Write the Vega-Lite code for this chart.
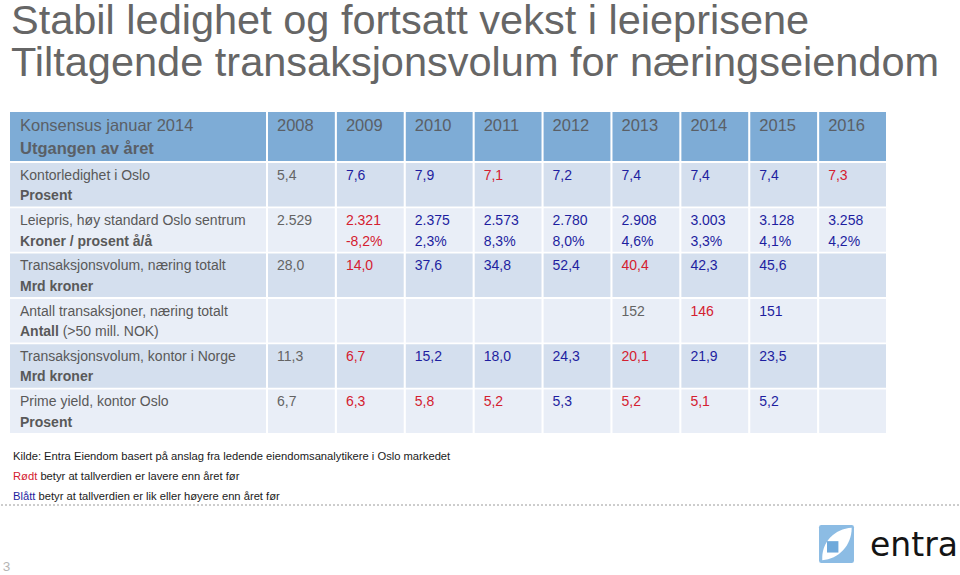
{
  "$schema": "https://vega.github.io/schema/vega-lite/v6.json",
  "padding": 0,
  "background": "white",
  "title": {
    "text": ["Stabil ledighet og fortsatt vekst i leieprisene", "Tiltagende transaksjonsvolum for næringseiendom"],
    "anchor": "start",
    "frame": "group",
    "font": "Liberation Sans",
    "fontSize": 41.5,
    "fontWeight": "normal",
    "color": "#666666",
    "lineHeight": 42,
    "offset": 28,
    "dx": 1
  },
  "datasets": {
    "etiketter": [
      {"rad": 1, "linje1": "Kontorledighet i Oslo", "linje2": "Prosent", "tillegg": ""},
      {"rad": 2, "linje1": "Leiepris, høy standard Oslo sentrum", "linje2": "Kroner / prosent å/å", "tillegg": ""},
      {"rad": 3, "linje1": "Transaksjonsvolum, næring totalt", "linje2": "Mrd kroner", "tillegg": ""},
      {"rad": 4, "linje1": "Antall transaksjoner, næring totalt", "linje2": "Antall", "tillegg": "(>50 mill. NOK)"},
      {"rad": 5, "linje1": "Transaksjonsvolum, kontor i Norge", "linje2": "Mrd kroner", "tillegg": ""},
      {"rad": 6, "linje1": "Prime yield, kontor Oslo", "linje2": "Prosent", "tillegg": ""}
    ],
    "aar": [
      {"aar": "2008"}, {"aar": "2009"}, {"aar": "2010"}, {"aar": "2011"}, {"aar": "2012"},
      {"aar": "2013"}, {"aar": "2014"}, {"aar": "2015"}, {"aar": "2016"}
    ],
    "celler": [
      {"rad": 1, "aar": "2008", "verdi": "5,4", "endring": "", "retning": "ingen"},
      {"rad": 1, "aar": "2009", "verdi": "7,6", "endring": "", "retning": "opp"},
      {"rad": 1, "aar": "2010", "verdi": "7,9", "endring": "", "retning": "opp"},
      {"rad": 1, "aar": "2011", "verdi": "7,1", "endring": "", "retning": "ned"},
      {"rad": 1, "aar": "2012", "verdi": "7,2", "endring": "", "retning": "opp"},
      {"rad": 1, "aar": "2013", "verdi": "7,4", "endring": "", "retning": "opp"},
      {"rad": 1, "aar": "2014", "verdi": "7,4", "endring": "", "retning": "opp"},
      {"rad": 1, "aar": "2015", "verdi": "7,4", "endring": "", "retning": "opp"},
      {"rad": 1, "aar": "2016", "verdi": "7,3", "endring": "", "retning": "ned"},
      {"rad": 2, "aar": "2008", "verdi": "2.529", "endring": "", "retning": "ingen"},
      {"rad": 2, "aar": "2009", "verdi": "2.321", "endring": "-8,2%", "retning": "ned"},
      {"rad": 2, "aar": "2010", "verdi": "2.375", "endring": "2,3%", "retning": "opp"},
      {"rad": 2, "aar": "2011", "verdi": "2.573", "endring": "8,3%", "retning": "opp"},
      {"rad": 2, "aar": "2012", "verdi": "2.780", "endring": "8,0%", "retning": "opp"},
      {"rad": 2, "aar": "2013", "verdi": "2.908", "endring": "4,6%", "retning": "opp"},
      {"rad": 2, "aar": "2014", "verdi": "3.003", "endring": "3,3%", "retning": "opp"},
      {"rad": 2, "aar": "2015", "verdi": "3.128", "endring": "4,1%", "retning": "opp"},
      {"rad": 2, "aar": "2016", "verdi": "3.258", "endring": "4,2%", "retning": "opp"},
      {"rad": 3, "aar": "2008", "verdi": "28,0", "endring": "", "retning": "ingen"},
      {"rad": 3, "aar": "2009", "verdi": "14,0", "endring": "", "retning": "ned"},
      {"rad": 3, "aar": "2010", "verdi": "37,6", "endring": "", "retning": "opp"},
      {"rad": 3, "aar": "2011", "verdi": "34,8", "endring": "", "retning": "opp"},
      {"rad": 3, "aar": "2012", "verdi": "52,4", "endring": "", "retning": "opp"},
      {"rad": 3, "aar": "2013", "verdi": "40,4", "endring": "", "retning": "ned"},
      {"rad": 3, "aar": "2014", "verdi": "42,3", "endring": "", "retning": "opp"},
      {"rad": 3, "aar": "2015", "verdi": "45,6", "endring": "", "retning": "opp"},
      {"rad": 3, "aar": "2016", "verdi": "", "endring": "", "retning": "ingen"},
      {"rad": 4, "aar": "2008", "verdi": "", "endring": "", "retning": "ingen"},
      {"rad": 4, "aar": "2009", "verdi": "", "endring": "", "retning": "ingen"},
      {"rad": 4, "aar": "2010", "verdi": "", "endring": "", "retning": "ingen"},
      {"rad": 4, "aar": "2011", "verdi": "", "endring": "", "retning": "ingen"},
      {"rad": 4, "aar": "2012", "verdi": "", "endring": "", "retning": "ingen"},
      {"rad": 4, "aar": "2013", "verdi": "152", "endring": "", "retning": "ingen"},
      {"rad": 4, "aar": "2014", "verdi": "146", "endring": "", "retning": "ned"},
      {"rad": 4, "aar": "2015", "verdi": "151", "endring": "", "retning": "opp"},
      {"rad": 4, "aar": "2016", "verdi": "", "endring": "", "retning": "ingen"},
      {"rad": 5, "aar": "2008", "verdi": "11,3", "endring": "", "retning": "ingen"},
      {"rad": 5, "aar": "2009", "verdi": "6,7", "endring": "", "retning": "ned"},
      {"rad": 5, "aar": "2010", "verdi": "15,2", "endring": "", "retning": "opp"},
      {"rad": 5, "aar": "2011", "verdi": "18,0", "endring": "", "retning": "opp"},
      {"rad": 5, "aar": "2012", "verdi": "24,3", "endring": "", "retning": "opp"},
      {"rad": 5, "aar": "2013", "verdi": "20,1", "endring": "", "retning": "ned"},
      {"rad": 5, "aar": "2014", "verdi": "21,9", "endring": "", "retning": "opp"},
      {"rad": 5, "aar": "2015", "verdi": "23,5", "endring": "", "retning": "opp"},
      {"rad": 5, "aar": "2016", "verdi": "", "endring": "", "retning": "ingen"},
      {"rad": 6, "aar": "2008", "verdi": "6,7", "endring": "", "retning": "ingen"},
      {"rad": 6, "aar": "2009", "verdi": "6,3", "endring": "", "retning": "ned"},
      {"rad": 6, "aar": "2010", "verdi": "5,8", "endring": "", "retning": "ned"},
      {"rad": 6, "aar": "2011", "verdi": "5,2", "endring": "", "retning": "ned"},
      {"rad": 6, "aar": "2012", "verdi": "5,3", "endring": "", "retning": "opp"},
      {"rad": 6, "aar": "2013", "verdi": "5,2", "endring": "", "retning": "ned"},
      {"rad": 6, "aar": "2014", "verdi": "5,1", "endring": "", "retning": "ned"},
      {"rad": 6, "aar": "2015", "verdi": "5,2", "endring": "", "retning": "opp"},
      {"rad": 6, "aar": "2016", "verdi": "", "endring": "", "retning": "ingen"}
    ],
    "noter": [
      {"linje": 1, "farget": "", "retning": "ingen", "resten": "Kilde: Entra Eiendom basert på anslag fra ledende eiendomsanalytikere i Oslo markedet"},
      {"linje": 2, "farget": "Rødt", "retning": "ned", "resten": "betyr at tallverdien er lavere enn året før"},
      {"linje": 3, "farget": "Blått", "retning": "opp", "resten": "betyr at tallverdien er lik eller høyere enn året før"}
    ]
  },
  "vconcat": [
    {
      "spacing": 2,
      "vconcat": [
        {
          "spacing": 2,
          "hconcat": [
            {
              "width": 256,
              "height": 49,
              "data": {"values": [{"linje1": "Konsensus januar 2014", "linje2": "Utgangen av året"}]},
              "view": {"fill": "#7EACD6", "stroke": null},
              "layer": [
                {
                  "mark": {"type": "text", "align": "left", "baseline": "middle", "font": "Liberation Sans", "fontSize": 16.5, "color": "#5A5F66", "dx": 10, "dy": -10.5},
                  "encoding": {"x": {"value": 0}, "text": {"field": "linje1"}}
                },
                {
                  "mark": {"type": "text", "align": "left", "baseline": "middle", "font": "Liberation Sans", "fontSize": 16.5, "fontWeight": "bold", "color": "#5A5F66", "dx": 10, "dy": 12.5},
                  "encoding": {"x": {"value": 0}, "text": {"field": "linje2"}}
                }
              ]
            },
            {
              "width": 618,
              "height": 49,
              "data": {"name": "aar"},
              "layer": [
                {
                  "mark": {"type": "rect", "color": "#7EACD6"},
                  "encoding": {
                    "x": {"field": "aar", "type": "ordinal", "scale": {"type": "band", "paddingInner": 0.03, "paddingOuter": 0}, "axis": null}
                  }
                },
                {
                  "mark": {"type": "text", "align": "left", "baseline": "middle", "font": "Liberation Sans", "fontSize": 16.5, "color": "#5A5F66", "dx": 9, "dy": -10.5},
                  "encoding": {
                    "x": {"field": "aar", "type": "ordinal", "bandPosition": 0, "axis": null},
                    "text": {"field": "aar"}
                  }
                }
              ]
            }
          ]
        },
        {
          "spacing": 2,
          "hconcat": [
            {
              "width": 256,
              "height": 270,
              "data": {"name": "etiketter"},
              "encoding": {
                "y": {"field": "rad", "type": "ordinal", "scale": {"type": "band", "domain": [1, 2, 3, 4, 5, 6], "paddingInner": 0.04, "paddingOuter": 0}, "axis": null}
              },
              "layer": [
                {
                  "mark": {"type": "rect"},
                  "encoding": {
                    "fill": {"field": "rad", "type": "ordinal", "scale": {"domain": [1, 2, 3, 4, 5, 6], "range": ["#D4DFEE", "#E9EEF7", "#D4DFEE", "#E9EEF7", "#D4DFEE", "#E9EEF7"]}, "legend": null}
                  }
                },
                {
                  "mark": {"type": "text", "align": "left", "baseline": "middle", "font": "Liberation Sans", "fontSize": 14, "color": "#595959", "dx": 10, "dy": -9},
                  "encoding": {"x": {"value": 0}, "text": {"field": "linje1"}}
                },
                {
                  "mark": {"type": "text", "align": "left", "baseline": "middle", "font": "Liberation Sans", "fontSize": 14, "fontWeight": "bold", "color": "#595959", "dx": 10, "dy": 11.5},
                  "encoding": {"x": {"value": 0}, "text": {"field": "linje2"}}
                },
                {
                  "mark": {"type": "text", "align": "left", "baseline": "middle", "font": "Liberation Sans", "fontSize": 14, "color": "#595959", "dx": 52.7, "dy": 11.5},
                  "encoding": {"x": {"value": 0}, "text": {"field": "tillegg"}}
                }
              ]
            },
            {
              "width": 618,
              "height": 270,
              "data": {"name": "celler"},
              "encoding": {
                "y": {"field": "rad", "type": "ordinal", "scale": {"type": "band", "domain": [1, 2, 3, 4, 5, 6], "paddingInner": 0.04, "paddingOuter": 0}, "axis": null}
              },
              "layer": [
                {
                  "mark": {"type": "rect"},
                  "encoding": {
                    "x": {"field": "aar", "type": "ordinal", "scale": {"type": "band", "paddingInner": 0.03, "paddingOuter": 0}, "axis": null},
                    "fill": {"field": "rad", "type": "ordinal", "scale": {"domain": [1, 2, 3, 4, 5, 6], "range": ["#D4DFEE", "#E9EEF7", "#D4DFEE", "#E9EEF7", "#D4DFEE", "#E9EEF7"]}, "legend": null}
                  }
                },
                {
                  "mark": {"type": "text", "align": "left", "baseline": "middle", "font": "Liberation Sans", "fontSize": 14, "dx": 9, "dy": -9},
                  "encoding": {
                    "x": {"field": "aar", "type": "ordinal", "bandPosition": 0, "axis": null},
                    "text": {"field": "verdi"},
                    "color": {"field": "retning", "type": "nominal", "scale": {"domain": ["opp", "ned", "ingen"], "range": ["#1E1EA0", "#D42030", "#646464"]}, "legend": null}
                  }
                },
                {
                  "mark": {"type": "text", "align": "left", "baseline": "middle", "font": "Liberation Sans", "fontSize": 14, "dx": 9, "dy": 11.5},
                  "encoding": {
                    "x": {"field": "aar", "type": "ordinal", "bandPosition": 0, "axis": null},
                    "text": {"field": "endring"},
                    "color": {"field": "retning", "type": "nominal", "scale": {"domain": ["opp", "ned", "ingen"], "range": ["#1E1EA0", "#D42030", "#646464"]}, "legend": null}
                  }
                }
              ]
            }
          ]
        }
      ]
    },
    {
      "width": 951,
      "height": 142,
      "data": {"name": "noter"},
      "encoding": {
        "y": {"field": "linje", "type": "ordinal", "scale": {"type": "band", "domain": [1, 2, 3], "range": [14, 74], "paddingInner": 0, "paddingOuter": 0}, "axis": null}
      },
      "layer": [
        {
          "transform": [{"filter": "datum.linje == 1"}],
          "mark": {"type": "text", "align": "left", "baseline": "middle", "font": "Liberation Sans", "fontSize": 11.2, "color": "#1A1A1A", "dx": 3},
          "encoding": {"x": {"value": 0}, "text": {"field": "resten"}}
        },
        {
          "transform": [{"filter": "datum.linje == 2"}],
          "mark": {"type": "text", "align": "left", "baseline": "middle", "font": "Liberation Sans", "fontSize": 11.2, "color": "#1A1A1A", "dx": 30.4},
          "encoding": {"x": {"value": 0}, "text": {"field": "resten"}}
        },
        {
          "transform": [{"filter": "datum.linje == 3"}],
          "mark": {"type": "text", "align": "left", "baseline": "middle", "font": "Liberation Sans", "fontSize": 11.2, "color": "#1A1A1A", "dx": 28.5},
          "encoding": {"x": {"value": 0}, "text": {"field": "resten"}}
        },
        {
          "mark": {"type": "text", "align": "left", "baseline": "middle", "font": "Liberation Sans", "fontSize": 11.2, "dx": 3},
          "encoding": {
            "x": {"value": 0},
            "text": {"field": "farget"},
            "color": {"field": "retning", "type": "nominal", "scale": {"domain": ["opp", "ned", "ingen"], "range": ["#1E1EA0", "#D42030", "#646464"]}, "legend": null}
          }
        },
        {
          "data": {"values": [{"del": "skillelinje"}]},
          "mark": {"type": "rule", "color": "#9A9A9A", "strokeWidth": 1, "strokeDash": [2, 2]},
          "encoding": {"x": {"value": -9}, "x2": {"value": 951}, "y": {"value": 72}}
        },
        {
          "data": {"values": [{"navn": "entra"}]},
          "mark": {"type": "text", "align": "right", "baseline": "alphabetic", "font": "DejaVu Sans", "fontSize": 33, "color": "#141414"},
          "encoding": {"x": {"value": 948}, "y": {"value": 123}, "text": {"field": "navn"}}
        },
        {
          "data": {"values": [{"del": "ikon"}]},
          "mark": {"type": "point", "filled": true, "opacity": 1, "size": 1444, "color": "#8CBCE4", "shape": "M-0.8,-1H0.8Q0.92,-1 0.92,-0.88V0.88Q0.92,1 0.8,1H-0.8Q-0.92,1 -0.92,0.88V-0.88Q-0.92,-1 -0.8,-1Z"},
          "encoding": {"x": {"value": 826.5}, "y": {"value": 111}}
        },
        {
          "data": {"values": [{"del": "blad"}]},
          "mark": {"type": "point", "filled": true, "opacity": 1, "size": 1444, "color": "#FFFFFF", "shape": "M-0.75,0.85C-0.8,-0.1 -0.1,-0.8 0.8,-0.85C0.8,0.1 0.1,0.8 -0.75,0.85Z"},
          "encoding": {"x": {"value": 826.5}, "y": {"value": 111}}
        },
        {
          "data": {"values": [{"del": "kjerne"}]},
          "mark": {"type": "point", "filled": true, "opacity": 1, "size": 1444, "color": "#6FA9DB", "shape": "M-0.5,-0.15H0.1V0.45H-0.5Z"},
          "encoding": {"x": {"value": 826.5}, "y": {"value": 111}}
        },
        {
          "data": {"values": [{"side": "3"}]},
          "mark": {"type": "text", "align": "center", "baseline": "middle", "font": "Liberation Sans", "fontSize": 13.5, "color": "#B5B5B5"},
          "encoding": {"x": {"value": -3.5}, "y": {"value": 134}, "text": {"field": "side"}}
        }
      ]
    }
  ],
  "spacing": 0,
  "config": {
    "view": {"stroke": null},
    "font": "Liberation Sans"
  }
}
